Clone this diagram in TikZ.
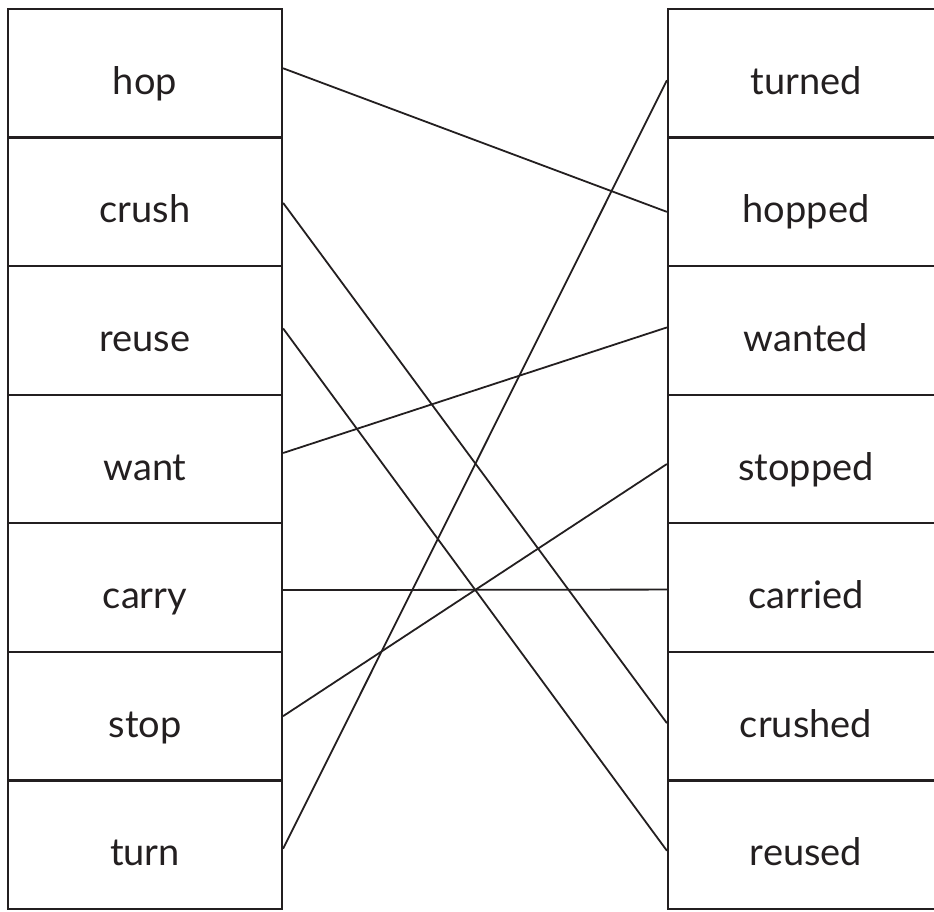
\documentclass[tikz,border=0pt]{standalone}
\usepackage{fontspec}
\setmainfont{Lato}
\definecolor{ink}{HTML}{231F20}
\begin{document}
\begin{tikzpicture}[x=1pt,y=-1pt,
  cell/.style={draw=ink,line width=2.2pt,rectangle,inner sep=0pt,
    minimum height=128.57pt,text height=42pt,text depth=0pt,
    font=\fontsize{38}{40}\selectfont,text=ink},
  lcell/.style={cell,minimum width=274pt},
  rcell/.style={cell,minimum width=276pt},
  link/.style={draw=ink,line width=1.8pt}]
\useasboundingbox (0,0) rectangle (934,911);
\begin{scope}
\clip (0,0) rectangle (934,911);
\foreach \name/\txt [count=\i from 0] in {hop/hop,crush/crush,reuse/reuse,want/want,carry/carry,stop/stop,turn/turn}
  \node[lcell] (\name) at (145,{9+128.57*(\i+0.5)}) {\txt};
\foreach \name/\txt [count=\i from 0] in {turned/turned,hopped/hopped,wanted/wanted,stopped/stopped,carried/carried,crushed/crushed,reused/reused}
  \node[rcell] (\name) at (806,{9+128.57*(\i+0.5)}) {\txt};
\end{scope}
\draw[link] ([yshift=5pt]hop.east) -- ([yshift=-10pt]hopped.west);
\draw[link] ([yshift=-1pt]crush.east) -- ([yshift=-7pt]crushed.west);
\draw[link] ([yshift=2pt]reuse.east) -- ([yshift=-6pt]reused.west);
\draw[link] ([yshift=6pt]want.east) -- ([yshift=3pt]wanted.west);
\draw[link] ([yshift=-2.5pt]carry.east) -- ([yshift=-2pt]carried.west);
\draw[link] ([yshift=0pt]stop.east) -- ([yshift=-5pt]stopped.west);
\draw[link] ([yshift=-4pt]turn.east) -- ([yshift=-7pt]turned.west);
\end{tikzpicture}
\end{document}
